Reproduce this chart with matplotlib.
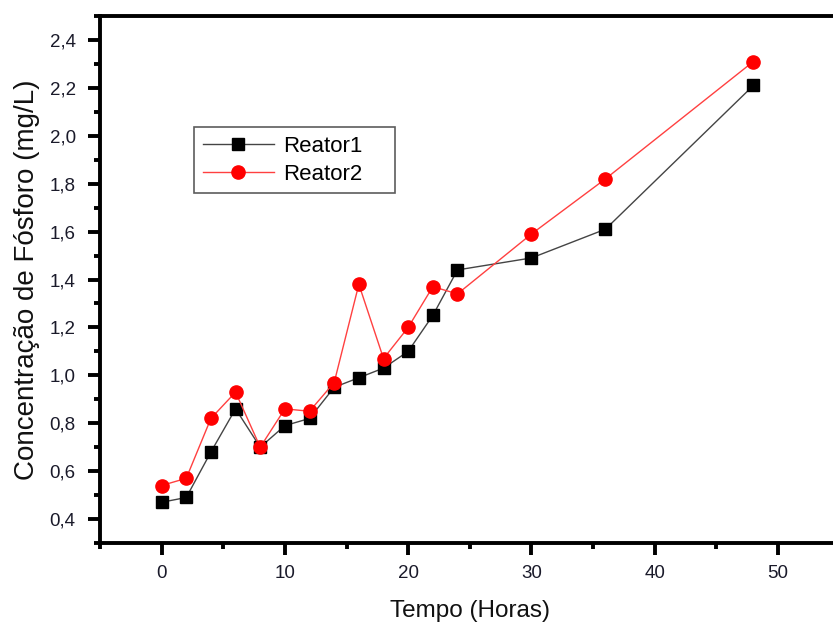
import matplotlib
matplotlib.use("Agg")
import matplotlib.pyplot as plt
import matplotlib.ticker as mtick

plt.rcParams['font.family'] = ['Liberation Sans', 'DejaVu Sans']

# tempo de coleta (h) e fosforo medido nos dois reatores
tempo = [0, 2, 4, 6, 8, 10, 12, 14, 16, 18, 20, 22, 24, 30, 36, 48]
reator1 = [0.47, 0.49, 0.68, 0.86, 0.70, 0.79, 0.82, 0.95, 0.99, 1.03,
           1.10, 1.25, 1.44, 1.49, 1.61, 2.21]
reator2 = [0.54, 0.57, 0.82, 0.93, 0.70, 0.86, 0.85, 0.97, 1.38, 1.07,
           1.20, 1.37, 1.34, 1.59, 1.82, 2.31]

fig = plt.figure(figsize=(8.33, 6.26), dpi=100)
ax = fig.add_axes([0.12, 0.1326, 0.888, 0.8418])

ax.plot(tempo, reator1, color='#444444', lw=1.0, marker='s', ms=8,
        mfc='black', mec='black', label='Reator1')
ax.plot(tempo, reator2, color='#ff4040', lw=1.0, marker='o', ms=9.5,
        mfc='#ff0000', mec='#ff0000', label='Reator2')

ax.set_xlim(-5, 55)
ax.set_ylim(0.3, 2.5)
ax.xaxis.set_major_locator(mtick.MultipleLocator(10))
ax.xaxis.set_minor_locator(mtick.MultipleLocator(5))
ax.yaxis.set_major_locator(mtick.MultipleLocator(0.2))
ax.yaxis.set_minor_locator(mtick.MultipleLocator(0.1))
ax.yaxis.set_major_formatter(mtick.FuncFormatter(lambda v, p: f"{v:.1f}".replace('.', ',')))

for s in ax.spines.values():
    s.set_linewidth(2.8)
ax.tick_params(which='major', direction='out', length=8.5, width=2.8,
               labelsize=13.5, labelcolor='#1a1a2a')
ax.tick_params(axis='y', which='major', pad=9)
ax.tick_params(axis='x', which='major', pad=7.5)
ax.tick_params(which='minor', direction='out', length=4.5, width=2.8)
ax.tick_params(top=False, right=False, which='both')

ax.set_xlabel('Tempo (Horas)', fontsize=17.5, color='#111111', labelpad=13)
ax.set_ylabel('Concentração de Fósforo (mg/L)', fontsize=20, color='#111111', labelpad=7)

# caixa da legenda: x 194-395 px, y 127-200 px (a partir do topo)
leg = ax.legend(loc='upper left',
                bbox_to_anchor=(194 / 833, 1 - 200 / 626, 201 / 833, 73 / 626),
                bbox_transform=fig.transFigure, mode='expand', borderaxespad=0,
                fontsize=16, frameon=True, fancybox=False, edgecolor='#333333',
                handlelength=3.2, borderpad=0.4, labelspacing=0.3,
                handletextpad=0.4)
leg.get_frame().set_linewidth(1.2)

fig.savefig('out.png', dpi=100)
